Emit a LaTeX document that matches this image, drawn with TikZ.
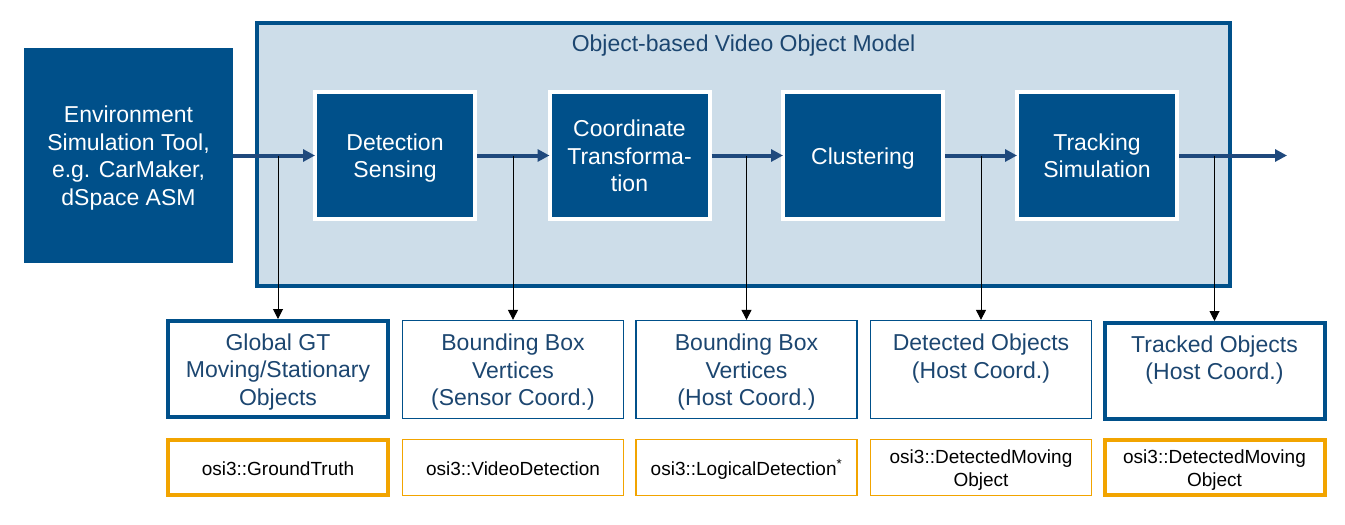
\documentclass[tikz,border=0pt]{standalone}
\usepackage{fontspec}
\setmainfont{Liberation Sans}
\usetikzlibrary{arrows.meta}
\definecolor{osiblue}{RGB}{0,80,138}
\definecolor{osiarrow}{RGB}{31,73,125}
\definecolor{osilight}{RGB}{205,221,233}
\definecolor{ositext}{RGB}{28,70,112}
\definecolor{osiorange}{RGB}{242,164,0}
% lines set a little low, as the slide does
\newcommand{\pptlines}[1]{\raisebox{-3pt}[\height][\depth]{\begin{tabular}{@{}c@{}}#1\end{tabular}}}
\begin{document}
\begin{tikzpicture}[x=1pt, y=-1pt,
    every node/.style={font=\fontsize{23}{27.5}\selectfont, inner sep=0pt},
    frame/.style={draw=osiblue, fill=osilight, line width=4pt},
    procbox/.style={fill=osiblue, draw=white, line width=4pt, text=white, minimum width=160pt, minimum height=127pt},
    outbox/.style={draw=osiblue, line width=1.3pt, text=ositext, minimum width=221pt, minimum height=98pt},
    outboxk/.style={outbox, line width=4pt, minimum width=220pt, minimum height=96pt},
    typebox/.style={draw=osiorange, line width=1.3pt, font=\fontsize{19}{23}\selectfont, minimum width=221pt, minimum height=56pt},
    typeboxk/.style={typebox, line width=4pt, minimum width=220pt, minimum height=55pt},
    flow/.style={draw=osiarrow, line width=4pt, -{Triangle[length=12pt, width=12pt]}, shorten >=-2pt},
    tap/.style={draw=black, line width=1pt, -{Triangle[length=10pt, width=10pt]}}
]
\useasboundingbox (0,0) rectangle (1345,525);
% source and model frame
\node[fill=osiblue, text=white, minimum width=209pt, minimum height=215pt] (env) at (128.5,155.5)
  {\pptlines{Environment\\Simulation Tool,\\e.g. CarMaker,\\dSpace ASM}};
\draw[frame] (257,23) rectangle (1230,286);
\node[text=ositext] (title) at (743.5,43) {\pptlines{Object-based Video Object Model}};
% processing chain
\node[procbox] (det) at (395,155.5)  {\pptlines{Detection\\Sensing}};
\node[procbox] (crd) at (629.5,155.5) {\pptlines{Coordinate\\Transforma-\\tion}};
\node[procbox] (clu) at (863,155.5)  {\pptlines{Clustering}};
\node[procbox] (trk) at (1097,155.5) {\pptlines{Tracking\\Simulation}};
\coordinate (out) at (1285,155.5);
% outputs
\node[outboxk] (gt)  at (278,369)     {\pptlines{Global GT\\Moving/Stationary\\Objects}};
\node[outbox]  (bbs) at (513,369.5)   {\pptlines{Bounding Box\\Vertices\\(Sensor Coord.)}};
\node[outbox]  (bbh) at (746.5,369.5) {\pptlines{Bounding Box\\Vertices\\(Host Coord.)}};
\node[outbox]  (dob) at (981,369.5)   {\pptlines{Detected Objects\\(Host Coord.)\\\mbox{}}};
\node[outboxk] (tob) at (1214.5,371)  {\pptlines{Tracked Objects\\(Host Coord.)\\\mbox{}}};
% OSI message types
\node[typeboxk] (tgt) at (278,467.5)    {\pptlines{osi3::GroundTruth}};
\node[typebox]  (tbs) at (513,467.5)    {\pptlines{osi3::VideoDetection}};
\node[typebox]  (tbh) at (746.5,467.5)  {\pptlines{osi3::LogicalDetection\textsuperscript{*}}};
\node[typebox]  (tdo) at (981,467.5)    {\pptlines{osi3::DetectedMoving\\Object}};
\node[typeboxk] (tto) at (1214.5,467.5) {\pptlines{osi3::DetectedMoving\\Object}};
% connectors
\draw[flow] (env) -- (det);
\draw[flow] (det) -- (crd);
\draw[flow] (crd) -- (clu);
\draw[flow] (clu) -- (trk);
\draw[flow] (trk) -- (out);
\foreach \o in {gt,bbs,bbh,dob,tob}
  \draw[tap] (\o.north |- det.west) -- (\o.north);
\end{tikzpicture}
\end{document}
